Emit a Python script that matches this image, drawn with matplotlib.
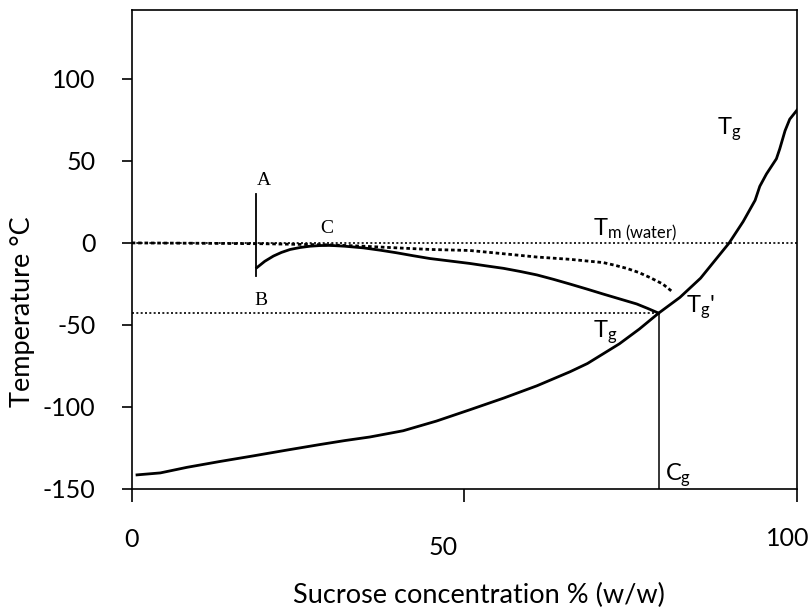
import matplotlib
matplotlib.use('Agg')
import matplotlib.pyplot as plt
from matplotlib.transforms import ScaledTranslation

plt.rcParams['font.family'] = ['Lato', 'DejaVu Sans']
plt.rcParams['mathtext.fontset'] = 'custom'
plt.rcParams['mathtext.rm'] = 'Lato'
plt.rcParams['mathtext.it'] = 'Lato:italic'

## data ##
# glass transition curve Tg
tg_x = [0.8, 4.3, 8.3, 13.3, 18.3, 23.3, 28.3, 32.0, 35.8, 40.8, 45.8, 50.9,
        55.9, 60.9, 65.9, 68.5, 70.9, 73.3, 76.3, 79.2, 82.4, 85.5, 87.8,
        89.8, 91.9, 93.7, 94.4, 95.4, 96.9, 97.4, 98.2, 98.9, 100]
tg_y = [-141.4, -140.2, -136.8, -133.2, -129.8, -126.3, -122.9, -120.5,
        -118.3, -114.5, -108.6, -101.6, -94.6, -87.1, -78.5, -73.5, -67.5,
        -61.5, -52.5, -42.8, -33.2, -21.5, -10.0, 0.0, 13.0, 26.0, 34.5,
        42.0, 51.3, 57.3, 68.4, 75.4, 81.0]

# freezing curve (solid)
tm_x = [18.8, 20.0, 21.3, 22.5, 23.8, 25.3, 26.8, 28.3, 29.8, 32.0, 34.8,
        37.3, 39.8, 42.3, 44.8, 47.8, 50.8, 53.3, 55.9, 58.4, 60.9, 63.4,
        65.9, 68.4, 70.9, 73.4, 75.9, 77.6, 79.2]
tm_y = [-15.1, -11.2, -8.0, -5.8, -4.0, -2.8, -2.0, -1.6, -1.5, -2.0, -3.0,
        -4.4, -6.0, -7.8, -9.5, -11.0, -12.5, -14.0, -15.5, -17.4, -19.5,
        -22.2, -25.1, -28.1, -31.2, -34.2, -37.2, -40.0, -42.8]

# dotted curve
dot_x = [0, 10, 20, 29.8, 34.8, 39.8, 45.0, 50.8, 55.9, 60.9, 65.9, 70.9,
         72.5, 74.4, 76.2, 77.9, 79.8, 81.4]
dot_y = [0, -0.2, -0.5, -1.2, -2.0, -3.0, -4.0, -4.6, -6.6, -8.6, -10.0,
         -12.0, -13.5, -15.5, -18.0, -21.1, -25.0, -30.2]

# A-B line, Cg and Tg'
ab_x = 18.7
ab_y = [-20, 30]
cg = 79.2
tg_prime = -42.5
tm_water = 0

x_ticks = [0, 50, 100]
y_ticks = [-150, -100, -50, 0, 50, 100]

## figure ##
fig = plt.figure(figsize=(8.09, 6.13), dpi=100)
ax = fig.add_axes([0.1628, 0.2023, 0.8224, 0.7814])
ax.set_xlim(0, 100)
ax.set_ylim(-150, 142)

ax.plot(tg_x, tg_y, color='black', lw=2.0, solid_joinstyle='round')
ax.plot(tm_x, tm_y, color='black', lw=2.0, solid_joinstyle='round')
ax.plot(dot_x, dot_y, color='black', lw=2.0, linestyle=(0, (1.3, 1.0)))
ax.plot([0, 100], [tm_water, tm_water], color='black', lw=1.2,
        linestyle=(0, (1.2, 1.4)))
ax.plot([0, cg], [tg_prime, tg_prime], color='black', lw=1.2,
        linestyle=(0, (1.2, 1.4)))
ax.plot([ab_x, ab_x], ab_y, color='black', lw=1.3)
ax.plot([cg, cg], [-150, tg_prime], color='black', lw=1.1)

## annotations ##
serif = {'family': 'Liberation Serif', 'size': 14}
ax.text(19.8, 38, 'A', ha='center', va='center', fontdict=serif)
ax.text(19.4, -35, 'B', ha='center', va='center', fontdict=serif)
ax.text(29.3, 9, 'C', ha='center', va='center', fontdict=serif)

lab = 17
ax.text(69.3, 5, r'$\mathrm{T}_{\mathrm{m\ (water)}}$', fontsize=lab, va='baseline')
ax.text(87.9, 66.4, r'$\mathrm{T}_{\mathrm{g}}$', fontsize=lab, va='baseline')
ax.text(83.3, -42.2, r"$\mathrm{T}_{\mathrm{g}}$'", fontsize=lab, va='baseline')
ax.text(69.3, -57.3, r'$\mathrm{T}_{\mathrm{g}}$', fontsize=lab, va='baseline')
ax.text(80.2, -145, r'$\mathrm{C}_{\mathrm{g}}$', fontsize=lab, va='baseline')

## axes ##
for s in ax.spines.values():
    s.set_linewidth(1.2)
ax.set_xticks(x_ticks, [str(v) for v in x_ticks])
ax.set_yticks(y_ticks, [str(v) for v in y_ticks])
ax.tick_params(axis='x', direction='out', length=9, width=1.2, pad=19,
               labelsize=18)
ax.tick_params(axis='y', direction='out', length=7, width=1.2, pad=19,
               labelsize=18)
xl = ax.get_xticklabels()
xl[1].set_transform(xl[1].get_transform() + ScaledTranslation(-0.215, -0.085, fig.dpi_scale_trans))
xl[2].set_transform(xl[2].get_transform() + ScaledTranslation(-0.09, 0.01, fig.dpi_scale_trans))

ax.set_xlabel('Sucrose concentration % (w/w)', fontsize=19.5)
ax.xaxis.set_label_coords(0.522, -0.196)
ax.set_ylabel('Temperature °C', fontsize=19.5)
ax.yaxis.set_label_coords(-0.145, 0.37)

fig.savefig('out.png', dpi=100)
